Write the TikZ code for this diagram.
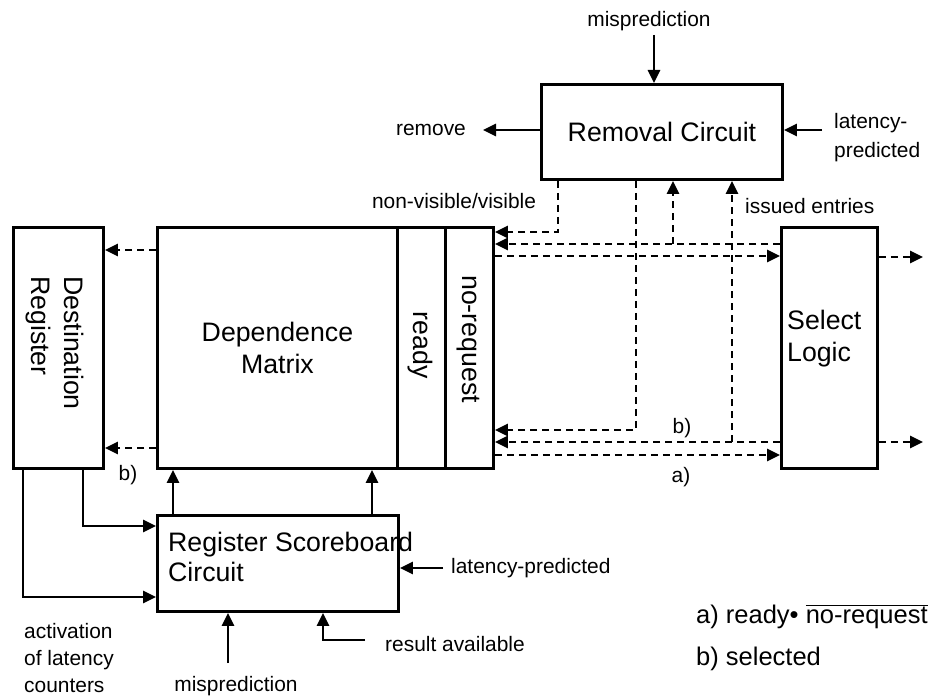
\documentclass[tikz,border=0pt]{standalone}
\usepackage{fontspec}
\setmainfont{Liberation Sans}
\usetikzlibrary{arrows.meta}
\begin{document}
\begin{tikzpicture}[x=1bp,y=-1bp,
  box/.style={draw,line width=2.9bp,inner sep=0pt,anchor=north west},
  big/.style={font=\fontsize{26.8}{33}\selectfont,inner sep=0pt},
  legend/.style={font=\fontsize{25.6}{33}\selectfont,inner sep=0pt},
  small/.style={font=\fontsize{21}{27.5}\selectfont,inner sep=0pt},
  sar/.style={line width=2.8bp,-{Triangle[length=13bp,width=12bp]}},
  dar/.style={line width=2.8bp,dash pattern=on 7bp off 5bp,-{Triangle[length=13bp,width=12bp]}},
]
\useasboundingbox (0,0) rectangle (936,697);

% boxes
\node[box,minimum width=241bp,minimum height=95bp,big,align=center] (rc) at (540,83) {Removal Circuit};
\node[box,minimum width=90bp,minimum height=241bp] (dest) at (12,226) {};
\node[box,minimum width=240bp,minimum height=241bp,big,align=center] (dm) at (156,226) {Dependence\\Matrix};
\node[box,minimum width=48bp,minimum height=241bp] (rdy) at (396,226) {};
\node[box,minimum width=48bp,minimum height=241bp] (nrq) at (444,226) {};
\node[box,minimum width=96bp,minimum height=241bp] (sel) at (780,226) {};
\node[box,minimum width=241bp,minimum height=96bp] (rsc) at (156,514) {};

% box texts
\node[big,rotate=-90,align=left] (destt) at (55,343) {Destination\\Register};
\node[big,rotate=-90] (rdyt) at (420,345) {ready};
\node[big,rotate=-90] (nrqt) at (468,339) {no-request};
\node[big,anchor=west,align=left,font=\fontsize{26.8}{32}\selectfont] (selt) at (787,339) {Select\\Logic};
\node[big,anchor=west,align=left,font=\fontsize{26.8}{30}\selectfont] (rsct) at (168,557) {Register Scoreboard\\Circuit};

% labels
\node[small] (misp1) at (649,21) {misprediction};
\node[small] (rmv) at (431,130) {remove};
\node[small,anchor=west,align=left,font=\fontsize{21}{29}\selectfont] (lp1) at (834,137.5) {latency-\\predicted};
\node[small] (nvv) at (454,201) {non-visible/visible};
\node[small,anchor=west] (iss) at (745,206) {issued entries};
\node[small] (lb1) at (682,428) {b)};
\node[small] (la1) at (681,477) {a)};
\node[small] (lb2) at (128,475) {b)};
\node[small,anchor=west] (lp2) at (451,568) {latency-predicted};
\node[small,anchor=west] (ra) at (385,644) {result available};
\node[small] (misp2) at (236,686) {misprediction};
\node[small,anchor=west,align=left] (act) at (24,658) {activation\\of latency\\counters};
\node[legend,anchor=base west] (lega) at (696,623) {a) ready\textbullet\ \(\overline{\mbox{no-request}}\)};
\node[legend,anchor=base west] (legb) at (696,665) {b) selected};

% coordinates
\coordinate (m1) at (654,35);
\coordinate (rmE) at (483,130);
\coordinate (lpS) at (822,130);
\coordinate (lp2S) at (443,568);
\coordinate (raS) at (365,640);
\coordinate (raC) at (323,640);
\coordinate (mbS) at (228,663);
\coordinate (u1) at (173,0);
\coordinate (u2) at (372,0);
\coordinate (d1) at (23,597);
\coordinate (d2) at (83,526);
\coordinate (j1) at (558,232);
\coordinate (j2) at (673,244);
\coordinate (y3) at (0,256);
\coordinate (j4) at (636,430);
\coordinate (j5) at (732,442);
\coordinate (y6) at (0,455);
\coordinate (o1) at (923,257);
\coordinate (o2) at (923,442);
\coordinate (l1) at (0,250);
\coordinate (l2) at (0,448);

% solid arrows
\draw[sar] (m1) -- (rc.north -| m1);
\draw[sar] (rc.west |- rmE) -- (rmE);
\draw[sar] (lpS) -- (rc.east |- lpS);
\draw[sar] (lp2S) -- (rsc.east |- lp2S);
\draw[sar] (raS) -- (raC) -- (rsc.south -| raC);
\draw[sar] (mbS) -- (rsc.south -| mbS);
\draw[sar] (rsc.north -| u1) -- (dm.south -| u1);
\draw[sar] (rsc.north -| u2) -- (dm.south -| u2);
\draw[sar] (dest.south -| d1) |- (rsc.west |- d1);
\draw[sar] (dest.south -| d2) |- (rsc.west |- d2);

% dashed arrows
\draw[dar] (rc.south -| j1) |- (nrq.east |- j1);
\draw[dar] (sel.west |- j2) -- (nrq.east |- j2);
\draw[dar] (j2) -- (rc.south -| j2);
\draw[dar] (nrq.east |- y3) -- (sel.west |- y3);
\draw[dar] (rc.south -| j4) |- (nrq.east |- j4);
\draw[dar] (sel.west |- j5) -- (nrq.east |- j5);
\draw[dar] (j5) -- (rc.south -| j5);
\draw[dar] (nrq.east |- y6) -- (sel.west |- y6);
\draw[dar] (sel.east |- o1) -- (o1);
\draw[dar] (sel.east |- o2) -- (o2);
\draw[dar] (dm.west |- l1) -- (dest.east |- l1);
\draw[dar] (dm.west |- l2) -- (dest.east |- l2);
\end{tikzpicture}
\end{document}
